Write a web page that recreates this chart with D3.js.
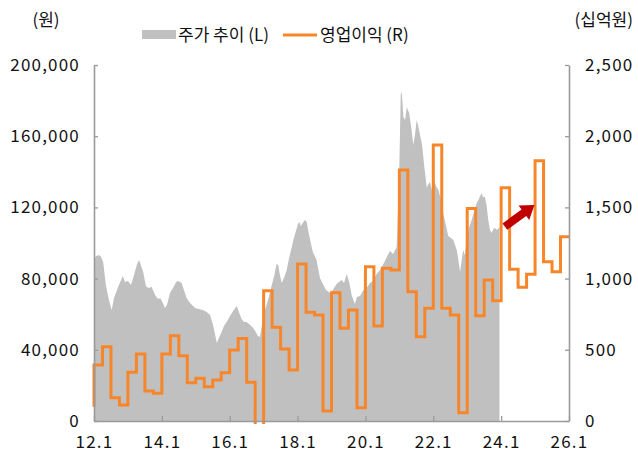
<!DOCTYPE html>
<html>
<head>
<meta charset="utf-8">
<script src="https://cdn.jsdelivr.net/npm/d3@7"></script>
<style>
  body { margin: 0; background: #fff; }
  text { font-family: "Noto Sans CJK KR", "Noto Sans", sans-serif; fill: #111; }
</style>
</head>
<body>
<script>
// stock price (L): decimal year and won
const priceYear = [2012.00, 2012.06, 2012.15, 2012.21, 2012.27, 2012.35, 2012.44, 2012.52, 2012.59, 2012.71,
  2012.80, 2012.85, 2012.91, 2013.00, 2013.09, 2013.18, 2013.27, 2013.33, 2013.39, 2013.45,
  2013.53, 2013.60, 2013.70, 2013.80, 2013.89, 2013.95, 2014.03, 2014.09, 2014.15, 2014.24,
  2014.33, 2014.42, 2014.48, 2014.58, 2014.65, 2014.73, 2014.83, 2014.98, 2015.09, 2015.21,
  2015.32, 2015.42, 2015.51, 2015.62, 2015.68, 2015.76, 2015.83, 2015.91, 2016.01, 2016.10,
  2016.21, 2016.27, 2016.35, 2016.42, 2016.50, 2016.60, 2016.69, 2016.77, 2016.83, 2016.89,
  2016.95, 2017.04, 2017.13, 2017.24, 2017.31, 2017.38, 2017.43, 2017.48, 2017.53, 2017.60,
  2017.68, 2017.75, 2017.83, 2017.89, 2017.97, 2018.01, 2018.05, 2018.10, 2018.17, 2018.22,
  2018.27, 2018.31, 2018.37, 2018.45, 2018.56, 2018.66, 2018.76, 2018.84, 2018.96, 2019.04,
  2019.15, 2019.22, 2019.30, 2019.37, 2019.45, 2019.52, 2019.60, 2019.69, 2019.75, 2019.84,
  2019.94, 2020.02, 2020.13, 2020.23, 2020.33, 2020.43, 2020.53, 2020.63, 2020.72, 2020.82,
  2020.92, 2020.97, 2021.00, 2021.04, 2021.07, 2021.12, 2021.17, 2021.22, 2021.25, 2021.29,
  2021.36, 2021.41, 2021.46, 2021.51, 2021.55, 2021.61, 2021.67, 2021.73, 2021.81, 2021.84,
  2021.90, 2021.96, 2022.02, 2022.08, 2022.15, 2022.23, 2022.29, 2022.37, 2022.44, 2022.52,
  2022.59, 2022.69, 2022.74, 2022.79, 2022.83, 2022.88, 2022.93, 2022.98, 2023.05, 2023.13,
  2023.20, 2023.28, 2023.33, 2023.38, 2023.43, 2023.46, 2023.52, 2023.57, 2023.62, 2023.67,
  2023.72, 2023.77, 2023.82, 2023.88, 2023.95];
const priceValue = [90500, 92700, 93300, 92100, 89300, 76400, 68000, 62400, 69100, 75300,
  79200, 81500, 78100, 78700, 76400, 82000, 88200, 90500, 87100, 83700,
  75800, 74700, 75300, 70800, 68500, 69100, 66300, 63500, 65200, 71900,
  74700, 78100, 78700, 77500, 73600, 69100, 66300, 63500, 62900, 62400,
  61200, 59600, 53900, 43800, 46600, 50000, 53400, 55600, 59000, 61800,
  64600, 61200, 57300, 55600, 55600, 53900, 52300, 50000, 47800, 47200,
  53900, 62400, 68000, 76400, 81500, 88200, 87600, 82000, 77500, 80300,
  84800, 91600, 97800, 102800, 107900, 110700, 111800, 109600, 111800, 112900,
  111800, 107300, 101700, 94900, 90500, 80300, 76400, 73600, 71900, 73600,
  77000, 78100, 79200, 77500, 82600, 78100, 70200, 65700, 69700, 70200,
  73600, 74200, 77500, 78700, 82600, 84800, 88200, 92100, 95500, 93800,
  97800, 124200, 143800, 183200, 184800, 170800, 169100, 176400, 174700, 173000,
  163500, 155100, 160700, 169100, 166300, 160700, 155100, 143800, 130900, 132600,
  134300, 129800, 135400, 132000, 129800, 124200, 116900, 110100, 103900, 102800,
  101700, 96100, 90500, 83700, 89300, 96100, 93300, 101700, 108400, 112900,
  117400, 122500, 124200, 126400, 128100, 125800, 125800, 121400, 112900, 107300,
  105600, 107900, 108400, 107300, 109000];

// operating profit (R), quarterly, 십억원; first value sits at 12.1
const opStart = 2012;
const opProfit = [100, 393, 522, 164, 112, 342, 470, 211, 194, 470,
  599, 459, 269, 300, 241, 288, 339, 498, 580, 272,
  -100, 915, 658, 505, 358, 1102, 763, 744, 70, 901,
  651, 779, 93, 1083, 667, 1072, 1060, 1762, 908, 592,
  791, 1938, 791, 744, 58, 1493, 739, 990, 845, 1638,
  1065, 939, 1030, 1827, 1118, 1048, 1294];

const xTicks = [2012, 2014, 2016, 2018, 2020, 2022, 2024, 2026];
const xTickLabels = ["12.1", "14.1", "16.1", "18.1", "20.1", "22.1", "24.1", "26.1"];
const leftTicks = [0, 40000, 80000, 120000, 160000, 200000];
const rightTicks = [0, 500, 1000, 1500, 2000, 2500];

// arrow annotation: tail and tip in (year, 십억원)
const arrowFrom = [2024.11, 1365];
const arrowTo = [2024.98, 1517];

const W = 638, H = 456;
const margin = {top: 65, right: 69, bottom: 35, left: 94},
  width = W - margin.left - margin.right,
  height = H - margin.top - margin.bottom;

const svg = d3.select("body").append("svg")
  .attr("width", W)
  .attr("height", H);

const g = svg.append("g")
  .attr("transform", `translate(${margin.left},${margin.top})`);

const x = d3.scaleLinear().domain([2012, 2026]).range([0, width]);
const yL = d3.scaleLinear().domain([0, 200000]).range([height, 0]);
const yR = d3.scaleLinear().domain([0, 2500]).range([height, 0]);

// price area
const priceData = priceYear.map((t, i) => [t, priceValue[i]]);
g.append("path")
  .datum(priceData)
  .attr("fill", "#c0c0c0")
  .attr("d", d3.area()
    .x(d => x(d[0]))
    .y0(height)
    .y1(d => yL(d[1])));

// clip for the profit line (it dips just below zero once)
svg.append("defs").append("clipPath").attr("id", "clip")
  .append("rect").attr("x", -3).attr("y", -3).attr("width", width + 6).attr("height", height + 6);

const opData = opProfit.map((v, i) => [opStart + i * 0.25, v]);
g.append("path")
  .datum(opData)
  .attr("clip-path", "url(#clip)")
  .attr("fill", "none")
  .attr("stroke", "#f7862a")
  .attr("stroke-width", 3)
  .attr("stroke-linejoin", "miter")
  .attr("d", d3.line()
    .curve(d3.curveStepBefore)
    .x(d => x(d[0]))
    .y(d => yR(d[1])));

// axes
const axisColor = "#9a9a9a";
const styleAxis = sel => {
  sel.select(".domain").attr("stroke", axisColor).attr("stroke-width", 1.6);
  sel.selectAll(".tick line").attr("stroke", axisColor).attr("stroke-width", 1.3);
  sel.selectAll(".tick text").style("font-size", "17px").style("letter-spacing", "1.2px").attr("fill", "#111");
};

g.append("g")
  .call(d3.axisLeft(yL).tickValues(leftTicks).tickSizeInner(-4).tickSizeOuter(0).tickPadding(14)
    .tickFormat(d3.format(",")))
  .call(styleAxis);

g.append("g")
  .attr("transform", `translate(${width},0)`)
  .call(d3.axisRight(yR).tickValues(rightTicks).tickSizeInner(-4).tickSizeOuter(0).tickPadding(16)
    .tickFormat(d3.format(",")))
  .call(styleAxis);

g.append("g")
  .attr("transform", `translate(0,${height})`)
  .call(d3.axisBottom(x).tickValues(xTicks).tickSizeInner(-5).tickSizeOuter(0).tickPadding(15)
    .tickFormat((d, i) => xTickLabels[i]))
  .call(styleAxis);

// arrow
const ax0 = x(arrowFrom[0]), ay0 = yR(arrowFrom[1]);
const ax1 = x(arrowTo[0]), ay1 = yR(arrowTo[1]);
const ang = Math.atan2(ay1 - ay0, ax1 - ax0);
const len = Math.hypot(ax1 - ax0, ay1 - ay0);
const headL = 13, headW = 9, shaftW = 4;
g.append("path")
  .attr("transform", `translate(${ax0},${ay0}) rotate(${ang * 180 / Math.PI})`)
  .attr("fill", "#c00000")
  .attr("d", `M0,${-shaftW} L${len - headL},${-shaftW} L${len - headL},${-headW} L${len},0 ` +
    `L${len - headL},${headW} L${len - headL},${shaftW} L0,${shaftW} Z`);

// unit labels
svg.append("text")
  .attr("x", 46).attr("y", 26)
  .attr("text-anchor", "middle")
  .style("font-size", "17px")
  .text("(원)");

svg.append("text")
  .attr("x", 633).attr("y", 26)
  .attr("text-anchor", "end")
  .style("font-size", "17px")
  .text("(십억원)");

// legend
const legend = svg.append("g");
legend.append("rect")
  .attr("x", 142).attr("y", 30).attr("width", 34).attr("height", 9)
  .attr("fill", "#c0c0c0");
legend.append("text")
  .attr("x", 178).attr("y", 41)
  .style("font-size", "17px")
  .text("주가 추이 (L)");
legend.append("line")
  .attr("x1", 283).attr("x2", 317).attr("y1", 35).attr("y2", 35)
  .attr("stroke", "#f7862a").attr("stroke-width", 3);
legend.append("text")
  .attr("x", 320).attr("y", 41)
  .style("font-size", "17px")
  .text("영업이익 (R)");
</script>
</body>
</html>
